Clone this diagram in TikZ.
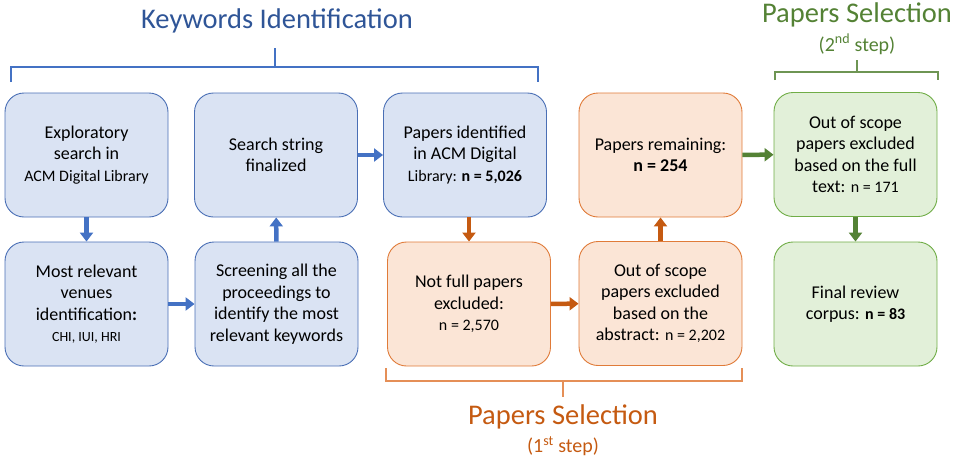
\documentclass[tikz,border=0pt]{standalone}
\usepackage{fontspec}
\setmainfont{Carlito}
\usetikzlibrary{arrows.meta}

\definecolor{bluefill}{HTML}{DAE3F3}
\definecolor{blueline}{HTML}{4A6FB5}
\definecolor{bluearrow}{HTML}{4472C4}
\definecolor{bluetitle}{HTML}{2F5597}
\definecolor{orangefill}{HTML}{FBE5D6}
\definecolor{orangeline}{HTML}{E07B39}
\definecolor{orangearrow}{HTML}{C55A11}
\definecolor{greenfill}{HTML}{E2F0D9}
\definecolor{greenline}{HTML}{70AD47}
\definecolor{greenarrow}{HTML}{548235}

\tikzset{
  stage/.style={draw, line width=0.9pt, rounded corners=19pt,
    minimum width=163pt, minimum height=124pt, inner sep=2pt,
    align=center, text=black, font=\fontsize{18}{21.5}\selectfont},
  bluebox/.style={stage, fill=bluefill, draw=blueline},
  orangebox/.style={stage, fill=orangefill, draw=orangeline},
  greenbox/.style={stage, fill=greenfill, draw=greenline},
  flow/.style={line width=4.5pt, -{Triangle[width=13pt,length=9pt]}},
  brace/.style={line width=1.1pt},
  title/.style={font=\fontsize{28.5}{32}\selectfont},
  subtitle/.style={font=\fontsize{20}{22}\selectfont}
}
\newcommand{\sm}{\fontsize{16}{21.5}\selectfont}
\newcommand{\xs}{\fontsize{14}{21.5}\selectfont}

\begin{document}
\begin{tikzpicture}[x=1pt, y=-1pt]
\useasboundingbox (0,0) rectangle (955,458);

% --- keywords identification stage
\node[bluebox] (explore) at (86.5,155) {Exploratory\\search in\\{\sm ACM Digital Library}};
\node[bluebox] (string) at (276,155) {Search string\\finalized};
\node[bluebox] (found) at (465,155) {Papers identified\\in ACM Digital\\{\sm Library: \textbf{n = 5,026}}};
\node[bluebox] (venues) at (86.5,304) {Most relevant\\venues\\identification\textbf{:}\\{\xs CHI, IUI, HRI}};
\node[bluebox] (screen) at (276.5,304) {Screening all the\\proceedings to\\identify the most\\relevant keywords};

% --- first selection step
\node[orangebox] (remain) at (660.5,155) {Papers remaining:\\\textbf{n = 254}};
\node[orangebox] (notfull) at (469,304) {Not full papers\\excluded:\\{\sm n = 2,570}};
\node[orangebox] (abstract) at (660.5,303.5) {Out of scope\\papers excluded\\based on the\\abstract: {\sm n = 2,202}};

% --- second selection step
\node[greenbox] (fulltext) at (855.5,154.5) {Out of scope\\papers excluded\\based on the full\\text: {\sm n = 171}};
\node[greenbox] (corpus) at (855.5,304) {Final review\\corpus: {\sm\textbf{n = 83}}};

% --- flow arrows
\draw[flow, bluearrow] (explore) -- (venues);
\draw[flow, bluearrow] (venues) -- (screen);
\draw[flow, bluearrow] (screen) -- (string);
\draw[flow, bluearrow] (string) -- (found);
\draw[flow, orangearrow] (found.south -| notfull.north) -- (notfull.north);
\draw[flow, orangearrow] (notfull) -- (abstract);
\draw[flow, orangearrow] (abstract) -- (remain);
\draw[flow, greenarrow] (remain) -- (fulltext);
\draw[flow, greenarrow] (fulltext) -- (corpus);

% --- group brackets and headings
\node[title, text=bluetitle] (kwtitle) at (277,21) {Keywords Identification};
\coordinate (kwl) at (11,82);
\coordinate (kwr) at (538,82);
\coordinate (kwm) at (275,67);
\draw[brace, bluearrow] (kwl) -- (11,67) -- (538,67) -- (kwr);
\draw[brace, bluearrow] (kwm) -- (275,48);

\node[title, text=greenarrow] (sel2title) at (857,15) {Papers Selection};
\node[subtitle, text=greenarrow] (sel2sub) at (857,44) {(2\textsuperscript{nd} step)};
\coordinate (s2l) at (775,80);
\coordinate (s2r) at (938,80);
\draw[brace, greenarrow!85] (s2l) -- (775,72) -- (938,72) -- (s2r);
\draw[brace, greenarrow!85] (857,72) -- (857,60);

\node[title, text=orangearrow] (sel1title) at (563,417) {Papers Selection};
\node[subtitle, text=orangearrow] (sel1sub) at (563,446) {(1\textsuperscript{st} step)};
\coordinate (s1l) at (386,368);
\coordinate (s1r) at (742,368);
\draw[brace, orangeline!85] (s1l) -- (386,381) -- (742,381) -- (s1r);
\draw[brace, orangeline!85] (563,381) -- (563,397);
\end{tikzpicture}
\end{document}
